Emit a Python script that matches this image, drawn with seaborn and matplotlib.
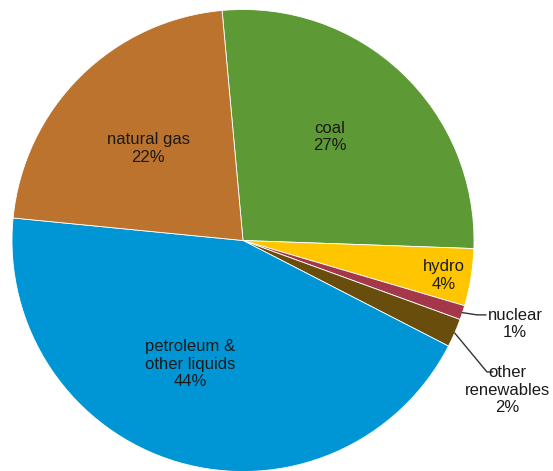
import numpy as np
import matplotlib
matplotlib.use("Agg")
import matplotlib.pyplot as plt
import seaborn as sns

# =========================================================
# DATA
# =========================================================
sources = ["coal", "hydro", "nuclear", "other\nrenewables", "petroleum &\nother liquids", "natural gas"]
shares = [27, 4, 1, 2, 44, 22]
colors = ["#5D9A35", "#FFC600", "#A5374A", "#684D0C", "#0096D6", "#BC732D"]

# label placement (data coords, pie radius = 1)
inside_pos = {
    "coal": (0.377, 0.448),
    "hydro": (0.870, -0.152),
    "petroleum &\nother liquids": (-0.229, -0.536),
    "natural gas": (-0.411, 0.398),
}
outside_pos = {
    "nuclear": ((1.013, -0.322), (1.052, -0.322), (1.178, -0.362)),
    "other\nrenewables": ((1.056, -0.569), (1.082, -0.569), (1.145, -0.648)),
}

# =========================================================
# PLOT
# =========================================================
sns.set_theme(style="white")
plt.rcParams["font.family"] = ["Liberation Sans", "DejaVu Sans"]

W, H = 553, 471
fig = plt.figure(figsize=(W / 100, H / 100), dpi=100)
cx, cy, r = 243, 240.5, 231
ax = fig.add_axes([(cx - r) / W, (H - cy - r) / H, 2 * r / W, 2 * r / H])

wedges, _ = ax.pie(shares, colors=colors, startangle=95.2, counterclock=False,
                   radius=1, wedgeprops=dict(edgecolor="white", linewidth=0.6))
ax.set_xlim(-1, 1)
ax.set_ylim(-1, 1)
ax.set_aspect("auto")
ax.axis("off")

txt_kw = dict(ha="center", va="center", fontsize=12, color="#1a1a1a", linespacing=1.2)

for w, name, val in zip(wedges, sources, shares):
    label = f"{name}\n{val}%"
    if name in inside_pos:
        x, y = inside_pos[name]
        ax.text(x, y, label, **txt_kw)
    else:
        ang = np.deg2rad((w.theta1 + w.theta2) / 2)
        edge = (np.cos(ang), np.sin(ang))
        elbow, end, tpos = outside_pos[name]
        ax.plot([edge[0], elbow[0], end[0]], [edge[1], elbow[1], end[1]],
                color="#333333", lw=1.0, clip_on=False)
        ax.text(tpos[0], tpos[1], label, clip_on=False, **txt_kw)

fig.savefig("out.png", dpi=100, facecolor="white")
